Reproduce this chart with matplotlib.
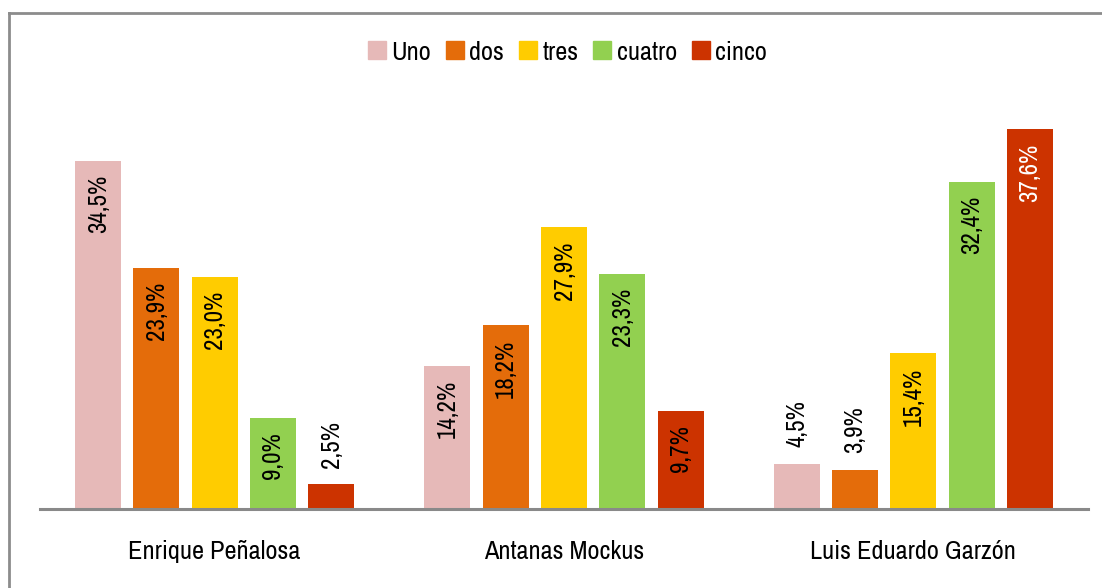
import numpy as np
import matplotlib.pyplot as plt
from matplotlib.lines import Line2D

plt.rcParams['font.family'] = ['Archivo Narrow', 'DejaVu Sans']

# Datos
candidatos = ["Enrique Peñalosa", "Antanas Mockus", "Luis Eduardo Garzón"]
series = ["Uno", "dos", "tres", "cuatro", "cinco"]
uno = [34.5, 14.2, 4.5]
dos = [23.9, 18.2, 3.9]
tres = [23.0, 27.9, 15.4]
cuatro = [9.0, 23.3, 32.4]
cinco = [2.5, 9.7, 37.6]
valores = [uno, dos, tres, cuatro, cinco]
colores = ["#E6B9B8", "#E46C0A", "#FFCC00", "#92D050", "#CC3300"]

fig = plt.figure(figsize=(11.02, 5.88), dpi=100)
ax = fig.add_axes([40/1102, 79/588, 1048/1102, 404/588])

x = np.arange(len(candidatos))
paso = 0.1668
ancho = 0.1316
for i, (serie, vals, c) in enumerate(zip(series, valores, colores)):
    pos = x + (i - 2) * paso
    ax.bar(pos, vals, width=ancho, color=c, label=serie, zorder=2)
    for p, v in zip(pos, vals):
        txt = f"{v:.1f}%".replace(".", ",")
        if v > 8:
            col = "white" if (serie == "cinco" and v > 30) else "black"
            ax.text(p, v - 1.4, txt, rotation=90, ha="center", va="top",
                    fontsize=18, color=col)
        else:
            ax.text(p, v + 1.6, txt, rotation=90, ha="center", va="bottom",
                    fontsize=18, color="black")

ax.set_xlim(-0.5, 2.5)
ax.set_ylim(0, 40)
ax.set_xticks(x)
ax.set_xticklabels(candidatos, fontsize=19)
ax.tick_params(axis="x", length=0, pad=22)
ax.set_yticks([])
for s in ["top", "right", "left"]:
    ax.spines[s].set_visible(False)
ax.spines["bottom"].set_color("#898989")
ax.spines["bottom"].set_linewidth(2.2)

# Leyenda
handles = [Line2D([], [], marker="s", linestyle="", markersize=13,
                  markerfacecolor=c, markeredgecolor=c) for c in colores]
fig.legend(handles, series, loc="center", bbox_to_anchor=(568/1102, 1 - 52/588),
           ncol=5, frameon=False, fontsize=19, handlelength=0.6,
           handletextpad=0.25, columnspacing=0.6)

# Marco del gráfico
fig.add_artist(Line2D([9/1102, 9/1102], [0, 1 - 13/588], color="#8c8c8c",
                      linewidth=2, transform=fig.transFigure))
fig.add_artist(Line2D([9/1102, 1], [1 - 13/588, 1 - 13/588], color="#8c8c8c",
                      linewidth=2, transform=fig.transFigure))

fig.savefig("out.png", dpi=100)
